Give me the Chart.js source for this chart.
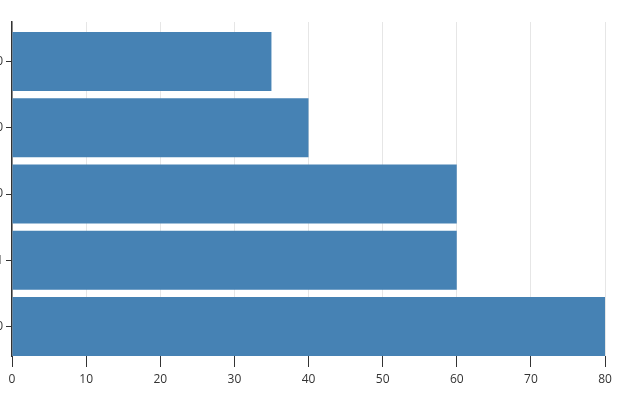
<!DOCTYPE html>
<html>
<head>
<meta charset="utf-8">
<script src="https://cdn.jsdelivr.net/npm/chart.js@4"></script>
<style>
  html, body { margin: 0; padding: 0; background: #fff; }
  #wrap { width: 640px; height: 400px; }
</style>
</head>
<body>
<div id="wrap"><canvas id="chart" width="640" height="400"></canvas></div>
<script>
/* -------- Data -------- */
const categories = ['Category 10', 'Category 20', 'Category 30', 'Category 41', 'Category 50'];
const values = [35, 40, 60, 60, 80];
const xTicks = [0, 10, 20, 30, 40, 50, 60, 70, 80];

const BAR_COLOR = '#4682b4';
const TEXT_COLOR = '#333333';

const ctx = document.getElementById('chart').getContext('2d');

new Chart(ctx, {
    type: 'bar',
    data: {
        datasets: [{
            data: values.map((v, i) => ({ x: v, y: i })),
            backgroundColor: BAR_COLOR,
            borderWidth: 0,
            barPercentage: 0.89,
            categoryPercentage: 1
        }]
    },
    options: {
        indexAxis: 'y',
        responsive: false,
        animation: false,
        layout: { padding: { top: 22, right: 35, left: 0, bottom: 0 } },
        plugins: {
            legend: { display: false },
            tooltip: { enabled: false }
        },
        scales: {
            x: {
                type: 'linear',
                min: 0,
                max: 80,
                afterBuildTicks: scale => {
                    scale.ticks = xTicks.map(v => ({ value: v }));
                },
                afterFit: scale => { scale.height = 44; },
                border: { display: false },
                grid: {
                    color: '#e6e6e6',
                    tickColor: TEXT_COLOR,
                    tickLength: 11,
                    lineWidth: 1
                },
                ticks: {
                    color: TEXT_COLOR,
                    padding: 5,
                    font: { family: 'Open Sans', size: 12 }
                }
            },
            y: {
                type: 'linear',
                reverse: true,
                offset: false,
                min: -0.597,
                max: 4.445,
                afterBuildTicks: scale => {
                    scale.ticks = categories.map((c, i) => ({ value: i }));
                },
                afterFit: scale => { scale.width = 12; },
                border: { display: true, color: TEXT_COLOR, width: 1.5 },
                grid: {
                    offset: false,
                    drawOnChartArea: false,
                    tickColor: TEXT_COLOR,
                    tickLength: 6
                },
                ticks: {
                    autoSkip: false,
                    color: TEXT_COLOR,
                    padding: 3,
                    font: { family: 'Open Sans', size: 12 },
                    callback: v => categories[v] || ''
                }
            }
        }
    }
});
</script>
</body>
</html>
